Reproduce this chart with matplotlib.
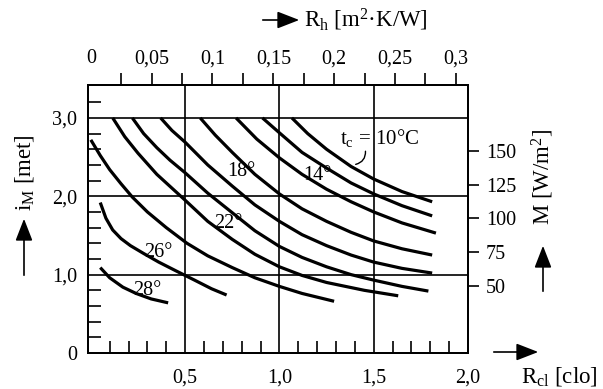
import matplotlib
matplotlib.use("Agg")
import matplotlib.pyplot as plt
import numpy as np

plt.rcParams['font.family'] = ['Liberation Serif', 'DejaVu Serif']
plt.rcParams['mathtext.fontset'] = 'custom'
plt.rcParams['mathtext.rm'] = 'Liberation Serif'
plt.rcParams['mathtext.it'] = 'Liberation Serif:italic'

# ---- data: clothing insulation (clo) vs activity (met) for constant temperature t_c
temps = [10, 12, 14, 16, 18, 20, 22, 24, 26, 28]
clo_10 = [1.066, 1.15, 1.25, 1.38, 1.50, 1.65, 1.81]
met_10 = [3.00, 2.80, 2.60, 2.38, 2.22, 2.06, 1.93]
clo_12 = [0.91, 1.00, 1.12, 1.25, 1.38, 1.50, 1.65, 1.81]
met_12 = [3.00, 2.81, 2.56, 2.36, 2.17, 2.03, 1.88, 1.75]
clo_14 = [0.77, 0.88, 1.00, 1.12, 1.25, 1.38, 1.50, 1.65, 1.83]
met_14 = [3.00, 2.73, 2.49, 2.28, 2.09, 1.93, 1.80, 1.66, 1.53]
clo_16 = [0.58, 0.66, 0.75, 0.87, 1.00, 1.12, 1.25, 1.38, 1.50, 1.65, 1.81]
met_16 = [3.00, 2.78, 2.56, 2.28, 2.03, 1.84, 1.68, 1.54, 1.43, 1.33, 1.25]
clo_18 = [0.37, 0.43, 0.50, 0.62, 0.75, 0.87, 1.00, 1.12, 1.25, 1.38, 1.50, 1.65, 1.81]
met_18 = [3.00, 2.84, 2.69, 2.40, 2.13, 1.89, 1.68, 1.51, 1.37, 1.25, 1.16, 1.08, 1.02]
clo_20 = [0.22, 0.28, 0.35, 0.42, 0.50, 0.62, 0.75, 0.87, 1.00, 1.12, 1.25, 1.38, 1.50, 1.65, 1.79]
met_20 = [3.00, 2.80, 2.62, 2.46, 2.30, 2.04, 1.79, 1.56, 1.36, 1.22, 1.10, 1.00, 0.93, 0.85, 0.79]
clo_22 = [0.116, 0.18, 0.25, 0.35, 0.50, 0.62, 0.75, 0.87, 1.00, 1.12, 1.25, 1.45, 1.63]
met_22 = [3.00, 2.76, 2.55, 2.28, 1.95, 1.68, 1.45, 1.26, 1.10, 0.99, 0.90, 0.80, 0.73]
clo_24 = [0.00, 0.05, 0.10, 0.16, 0.22, 0.30, 0.40, 0.51, 0.62, 0.75, 0.87, 1.00, 1.12, 1.29]
met_24 = [2.72, 2.52, 2.34, 2.16, 1.99, 1.80, 1.60, 1.40, 1.24, 1.09, 0.96, 0.85, 0.76, 0.66]
clo_26 = [0.05, 0.08, 0.116, 0.16, 0.21, 0.28, 0.36, 0.45, 0.55, 0.64, 0.72]
met_26 = [1.92, 1.72, 1.57, 1.46, 1.37, 1.27, 1.16, 1.05, 0.93, 0.82, 0.74]
clo_28 = [0.05, 0.10, 0.17, 0.24, 0.32, 0.41]
met_28 = [1.09, 0.96, 0.84, 0.76, 0.69, 0.64]

curves_clo = [clo_10, clo_12, clo_14, clo_16, clo_18, clo_20, clo_22, clo_24, clo_26, clo_28]
curves_met = [met_10, met_12, met_14, met_16, met_18, met_20, met_22, met_24, met_26, met_28]

x_ticks = [0.5, 1.0, 1.5, 2.0]
x_ticklabels = ["0,5", "1,0", "1,5", "2,0"]
y_ticks = [0, 1, 2, 3]
y_ticklabels = ["0", "1,0", "2,0", "3,0"]
rh_ticks = [0, 0.05, 0.1, 0.15, 0.2, 0.25, 0.3]
rh_ticklabels = ["0", "0,05", "0,1", "0,15", "0,2", "0,25", "0,3"]
m_ticks = [50, 75, 100, 125, 150]
CLO_TO_RH = 0.155
MET_TO_W = 58.15

label_text = ["18°", "22°", "26°", "28°", "14°"]
label_clo = [0.80, 0.73, 0.36, 0.30, 1.20]
label_met = [2.31, 1.65, 1.28, 0.80, 2.27]

# ---- figure
W, H = 603, 389
fig = plt.figure(figsize=(W / 100, H / 100), dpi=100)
L, R, B, T = 88, 468, 353, 85
ax = fig.add_axes([L / W, 1 - B / H, (R - L) / W, (B - T) / H])
XMIN, XMAX = -0.015, 2.0
YMIN, YMAX = 0.0, 3.42
ax.set_xlim(XMIN, XMAX)
ax.set_ylim(YMIN, YMAX)

for s in ax.spines.values():
    s.set_linewidth(1.2)

# grid
for xv in [0.5, 1.0, 1.5]:
    ax.axvline(xv, color='black', lw=1.2, zorder=1)
for yv in [1, 2, 3]:
    ax.axhline(yv, color='black', lw=1.2, zorder=1)

for c, m in zip(curves_clo, curves_met):
    ax.plot(c, m, color='black', lw=2.3, solid_capstyle='butt', solid_joinstyle='round', zorder=3)

fs = 14.5
ax.set_xticks(x_ticks)
ax.set_xticklabels(x_ticklabels, fontsize=fs)
ax.set_yticks(y_ticks)
ax.set_yticklabels(y_ticklabels, fontsize=fs)
ax.tick_params(axis='x', which='major', length=0, pad=11)
ax.tick_params(axis='y', which='major', length=0, pad=8)
ax.set_xticks(np.arange(0.1, 2.0, 0.1), minor=True)
ax.set_yticks(np.arange(0.2, 3.3, 0.2), minor=True)
ax.tick_params(which='minor', direction='in', length=9, width=1.2)

for t, c, m in zip(label_text, label_clo, label_met):
    ax.text(c, m, t, fontsize=fs, ha='center', va='center', zorder=4)

ax.text(1.32, 2.75, r"t$_\mathregular{c}$ = 10°C", fontsize=15, ha='left', va='center', zorder=4)
ax.annotate("", xy=(1.39, 2.40), xytext=(1.455, 2.61),
            arrowprops=dict(arrowstyle='-', lw=1.0, connectionstyle="arc3,rad=-0.5"))

# top axis: R_h
axt = ax.twiny()
axt.set_xlim(XMIN * CLO_TO_RH, XMAX * CLO_TO_RH)
axt.set_xticks(rh_ticks)
axt.set_xticklabels(rh_ticklabels, fontsize=fs)
axt.set_xticks(np.arange(0.025, 0.31, 0.05), minor=True)
axt.tick_params(axis='x', which='both', direction='out', length=9, width=1.2, pad=3)
axt.xaxis.get_major_ticks()[0].tick2line.set_visible(False)
axt.xaxis.get_major_ticks()[0].tick1line.set_visible(False)

# right axis: M
axr = ax.twinx()
axr.set_ylim(YMIN * MET_TO_W, YMAX * MET_TO_W)
axr.set_yticks(m_ticks)
axr.set_yticklabels([str(v) for v in m_ticks], fontsize=fs)
axr.tick_params(axis='y', direction='out', length=8, width=1.2, pad=5)
for a in (axt, axr):
    for s in a.spines.values():
        s.set_linewidth(1.2)

# axis titles with arrows
def arrow(x0, y0, x1, y1):
    fig.add_artist(matplotlib.patches.FancyArrowPatch(
        (x0 / W, 1 - y0 / H), (x1 / W, 1 - y1 / H), transform=fig.transFigure,
        arrowstyle='-|>,head_length=0.9,head_width=0.35', mutation_scale=15,
        color='black', lw=1.2))

tfs = 16.5
arrow(260, 20, 302, 20)
fig.text(304 / W, 1 - 20 / H, r"$\mathregular{R_h}$ [m$^\mathregular{2}$·K/W]", fontsize=tfs,
         ha='left', va='center')
arrow(491, 352, 541, 352)
fig.text(521 / W, 1 - 377 / H, r"$\mathregular{R_{cl}}$ [clo]", fontsize=tfs,
         ha='left', va='center')
arrow(24, 278, 24, 216)
fig.text(24 / W, 1 - 173 / H, r"$\mathregular{i_M}$ [met]", fontsize=tfs, rotation=90,
         ha='center', va='center')
arrow(543, 294, 543, 243)
fig.text(543 / W, 1 - 177 / H, r"M [W/m$^\mathregular{2}$]", fontsize=tfs, rotation=90,
         ha='center', va='center')

fig.savefig("out.png", dpi=100)
